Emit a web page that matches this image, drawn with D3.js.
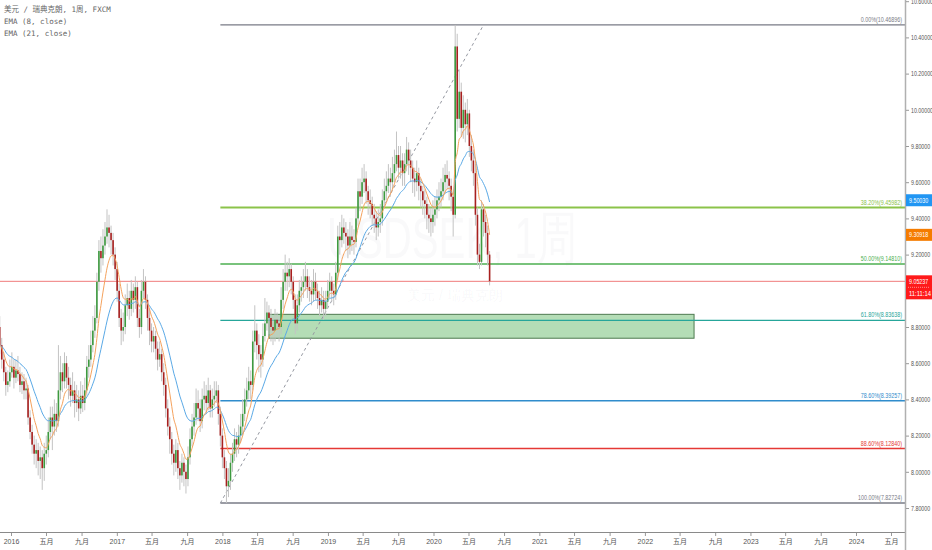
<!DOCTYPE html>
<html>
<head>
<meta charset="utf-8">
<script src="https://cdn.jsdelivr.net/npm/d3@7"></script>
<style>
html, body { margin: 0; padding: 0; background: #fff; }
svg { display: block; font-family: "Liberation Sans", Arial, sans-serif; }
</style>
</head>
<body>
<div id="chart"></div>
<script>
// weekly USD/SEK candles, open = previous close
const firstWeek = "2015-11-23";
const firstOpen = 8.80;
const closes = [8.70,8.62,8.55,8.48,8.50,8.55,8.58,8.52,8.56,8.54,
 8.48,8.50,8.45,8.46,8.30,8.22,8.15,8.10,8.12,8.06,
 8.08,8.02,8.10,8.12,8.22,8.30,8.25,8.32,8.28,8.45,
 8.55,8.50,8.60,8.52,8.48,8.42,8.45,8.38,8.40,8.35,
 8.42,8.38,8.45,8.58,8.62,8.70,8.78,8.85,9.05,9.22,
 9.18,9.25,9.30,9.35,9.32,9.28,9.20,9.12,9.00,8.85,
 8.78,8.80,8.92,8.96,8.90,9.00,8.95,9.02,8.85,8.80,
 9.00,9.05,8.95,8.85,8.78,8.72,8.75,8.68,8.62,8.65,
 8.55,8.48,8.35,8.25,8.18,8.10,8.05,8.12,8.02,7.98,
 8.05,8.00,7.96,8.08,8.18,8.25,8.30,8.38,8.35,8.28,
 8.40,8.42,8.38,8.45,8.35,8.40,8.42,8.45,8.32,8.20,
 8.08,8.02,7.92,7.95,8.05,8.10,8.18,8.15,8.20,8.25,
 8.32,8.40,8.45,8.50,8.48,8.72,8.78,8.70,8.65,8.62,
 8.75,8.82,8.88,8.85,8.80,8.78,8.84,8.82,8.80,8.95,
 9.05,9.10,9.08,9.12,9.05,8.95,8.82,8.92,9.00,9.02,
 9.05,9.08,9.02,9.00,8.98,9.05,9.00,8.96,8.92,8.95,
 8.90,8.94,9.00,9.05,9.00,8.98,9.10,9.30,9.28,9.35,
 9.32,9.30,9.25,9.30,9.28,9.27,9.40,9.55,9.52,9.60,
 9.62,9.55,9.50,9.48,9.42,9.40,9.35,9.38,9.40,9.50,
 9.55,9.58,9.62,9.60,9.65,9.70,9.75,9.68,9.72,9.65,
 9.70,9.78,9.72,9.68,9.62,9.60,9.65,9.58,9.55,9.50,
 9.48,9.42,9.40,9.38,9.42,9.45,9.50,9.52,9.55,9.60,
 9.64,9.62,9.58,9.52,9.42,10.35,9.95,10.10,9.90,10.00,
 9.92,9.98,9.80,9.72,9.65,9.42,9.20,9.16,9.45,9.38,
 9.32,9.20,9.05237];
const highs = [8.86,8.74,8.66,8.58,8.56,8.62,8.66,8.62,8.62,8.64,
 8.58,8.55,8.54,8.52,8.48,8.34,8.26,8.20,8.18,8.16,
 8.14,8.12,8.16,8.20,8.30,8.36,8.36,8.40,8.38,8.70,
 8.64,8.60,8.66,8.64,8.58,8.52,8.55,8.50,8.48,8.45,
 8.50,8.48,8.52,8.64,8.70,8.78,8.86,8.92,9.10,9.28,
 9.30,9.34,9.38,9.45,9.42,9.36,9.32,9.24,9.16,9.04,
 8.90,8.88,8.98,9.04,9.00,9.06,9.04,9.08,9.05,8.90,
 9.06,9.12,9.08,8.98,8.90,8.82,8.80,8.78,8.72,8.72,
 8.68,8.60,8.52,8.40,8.30,8.22,8.15,8.18,8.16,8.06,
 8.10,8.08,8.04,8.14,8.24,8.32,8.38,8.46,8.45,8.40,
 8.46,8.50,8.48,8.52,8.48,8.46,8.50,8.50,8.48,8.36,
 8.24,8.12,8.06,8.02,8.10,8.16,8.24,8.22,8.26,8.32,
 8.40,8.46,8.52,8.58,8.56,8.78,8.92,8.82,8.76,8.70,
 8.82,8.96,8.94,8.92,8.90,8.86,8.90,8.88,8.86,9.02,
 9.12,9.20,9.16,9.18,9.15,9.08,8.98,8.98,9.06,9.08,
 9.12,9.16,9.12,9.08,9.06,9.12,9.10,9.04,9.00,9.02,
 9.00,9.00,9.06,9.10,9.08,9.04,9.16,9.36,9.38,9.42,
 9.40,9.38,9.34,9.38,9.36,9.34,9.46,9.62,9.62,9.68,
 9.70,9.66,9.58,9.56,9.52,9.48,9.44,9.45,9.48,9.56,
 9.62,9.66,9.70,9.68,9.74,9.78,9.88,9.80,9.80,9.76,
 9.76,9.85,9.82,9.78,9.72,9.68,9.72,9.68,9.62,9.58,
 9.56,9.52,9.48,9.46,9.50,9.52,9.56,9.60,9.62,9.68,
 9.70,9.72,9.66,9.62,9.56,10.46896,10.42,10.22,10.15,10.08,
 10.04,10.06,10.00,9.86,9.78,9.70,9.46,9.26,9.50,9.48,
 9.42,9.36,9.22];
const lows = [8.65,8.57,8.50,8.42,8.44,8.47,8.52,8.46,8.49,8.50,
 8.44,8.43,8.40,8.40,8.26,8.18,8.10,8.04,8.02,7.98,
 7.96,7.90,7.95,8.04,8.08,8.18,8.12,8.20,8.22,8.25,
 8.40,8.44,8.46,8.46,8.40,8.36,8.38,8.30,8.33,8.28,
 8.32,8.33,8.34,8.42,8.52,8.58,8.66,8.74,8.82,9.00,
 9.10,9.14,9.20,9.26,9.24,9.20,9.14,9.06,8.94,8.80,
 8.70,8.72,8.76,8.86,8.84,8.86,8.88,8.90,8.80,8.74,
 8.76,8.96,8.90,8.78,8.70,8.66,8.66,8.62,8.56,8.58,
 8.50,8.42,8.30,8.20,8.10,8.04,7.98,8.00,7.96,7.90,
 7.94,7.92,7.88,7.92,8.04,8.14,8.20,8.26,8.28,8.22,
 8.24,8.34,8.32,8.34,8.30,8.30,8.36,8.38,8.26,8.14,
 8.02,7.96,7.82724,7.86,7.90,8.00,8.06,8.08,8.10,8.16,
 8.20,8.28,8.36,8.40,8.40,8.45,8.66,8.62,8.55,8.52,
 8.58,8.72,8.78,8.76,8.72,8.70,8.72,8.74,8.72,8.76,
 8.90,9.00,9.00,9.02,8.98,8.90,8.76,8.78,8.88,8.94,
 8.96,9.00,8.96,8.94,8.92,8.94,8.95,8.90,8.86,8.88,
 8.84,8.86,8.90,8.96,8.94,8.92,8.95,9.06,9.20,9.24,
 9.26,9.22,9.18,9.20,9.22,9.20,9.24,9.36,9.44,9.48,
 9.54,9.48,9.42,9.40,9.36,9.32,9.28,9.30,9.32,9.36,
 9.46,9.50,9.54,9.52,9.56,9.60,9.66,9.62,9.62,9.58,
 9.58,9.66,9.64,9.60,9.54,9.52,9.55,9.50,9.46,9.42,
 9.40,9.34,9.32,9.30,9.32,9.36,9.40,9.44,9.46,9.50,
 9.54,9.56,9.50,9.44,9.30,9.40,9.88,9.90,9.85,9.84,
 9.82,9.86,9.74,9.66,9.58,9.36,9.14,9.12,9.14,9.30,
 9.24,9.14,9.03];

// fibonacci retracement drawn from the 2018 low to the 2020 high
const fibHigh = 10.46896;
const fibLow = 7.82724;
const fibRatios = [0, 0.382, 0.5, 0.618, 0.786, 0.886, 1];
const fibAnchors = ["2017-12-25", "2020-06-22"];

// demand zone box
const zoneDates = ["2018-06-11", "2022-06-20"];
const zonePrices = [8.870, 8.738];

const lastPrice = 9.05237;
const countdown = "11:11:14";
const emaTags = [["9.50030", 9.50030], ["9.30918", 9.30918]];

const priceTicks = [7.8, 8.0, 8.2, 8.4, 8.6, 8.8, 9.0, 9.2, 9.4, 9.6, 9.8, 10.0, 10.2, 10.4, 10.6];
const years = [2016, 2017, 2018, 2019, 2020, 2021, 2022, 2023, 2024];
const monthLabels = [[4, "五月"], [8, "九月"]];

const legend = ["美元 / 瑞典克朗, 1周, FXCM", "EMA (8, close)", "EMA (21, close)"];

(function() {
    const width = 932, height = 550;
    const plotRight = 905;
    const plotBottom = 532;

    const fibColors = ["#787b86", "#8bc34a", "#4caf50", "#26a69a", "#2f8ccc", "#e53935", "#787b86"];
    const fibWidths = [1.2, 2, 1.5, 1.2, 1.5, 1.5, 1.5];

    const x = d3.scaleTime()
        .domain([new Date(2016, 0, 1), new Date(2024, 0, 1)])
        .range([11, 856]);
    const y = d3.scaleLinear()
        .domain([7.8, 10.6])
        .range([508, 1.2]);

    const parse = d3.timeParse("%Y-%m-%d");
    const start = parse(firstWeek);
    const candles = closes.map((c, i) => ({
        date: d3.timeWeek.offset(start, i),
        open: i === 0 ? firstOpen : closes[i - 1],
        high: highs[i],
        low: lows[i],
        close: c
    }));

    function ema(period) {
        const k = 2 / (period + 1);
        let prev = closes[0];
        return candles.map((d, i) => {
            prev = i === 0 ? d.close : d.close * k + prev * (1 - k);
            return {date: d.date, value: prev};
        });
    }

    // squeeze small axis numbers the way the narrow terminal font does
    const narrow = sel => sel
        .attr("textLength", function() { return this.textContent.length * 2.75; })
        .attr("lengthAdjust", "spacingAndGlyphs");

    const svg = d3.select("#chart").append("svg")
        .attr("width", width)
        .attr("height", height);

    svg.append("defs").append("clipPath").attr("id", "plot-clip")
        .append("rect").attr("x", 0).attr("y", 0)
        .attr("width", plotRight).attr("height", plotBottom);

    const plot = svg.append("g").attr("clip-path", "url(#plot-clip)");

    // watermark
    plot.append("text")
        .attr("x", 452).attr("y", 258)
        .attr("text-anchor", "middle")
        .attr("font-size", 58)
        .attr("textLength", 250)
        .attr("lengthAdjust", "spacingAndGlyphs")
        .attr("fill", "rgba(120,123,134,0.045)")
        .text("USDSEK, 1周");
    plot.append("text")
        .attr("x", 455).attr("y", 300)
        .attr("text-anchor", "middle")
        .attr("font-size", 14)
        .attr("fill", "rgba(120,123,134,0.05)")
        .text("美元 / 瑞典克朗");

    // demand zone
    plot.append("rect")
        .attr("x", x(parse(zoneDates[0])))
        .attr("y", y(zonePrices[0]))
        .attr("width", x(parse(zoneDates[1])) - x(parse(zoneDates[0])))
        .attr("height", y(zonePrices[1]) - y(zonePrices[0]))
        .attr("fill", "rgba(76,175,80,0.42)")
        .attr("stroke", "#4e7a50")
        .attr("stroke-width", 1);

    // fib levels
    const fibX0 = x(parse(fibAnchors[0]));
    const fibs = fibRatios.map((r, i) => ({
        ratio: r,
        value: fibHigh - (fibHigh - fibLow) * r,
        color: fibColors[i],
        w: fibWidths[i]
    }));
    const fibG = plot.append("g");
    fibG.selectAll("line")
        .data(fibs)
        .enter()
        .append("line")
        .attr("x1", fibX0)
        .attr("x2", plotRight)
        .attr("y1", d => y(d.value))
        .attr("y2", d => y(d.value))
        .attr("stroke", d => d.color)
        .attr("stroke-width", d => d.w);
    fibG.selectAll("text")
        .data(fibs)
        .enter()
        .append("text")
        .attr("x", plotRight - 3)
        .attr("y", d => y(d.value) - 3)
        .attr("text-anchor", "end")
        .attr("font-size", 7)
        .attr("fill", d => d.color)
        .text(d => (d.ratio * 100).toFixed(2) + "%(" + d.value.toFixed(5) + ")")
        .call(narrow);

    // dashed trend line between fib anchors
    plot.append("line")
        .attr("x1", fibX0).attr("y1", y(fibLow))
        .attr("x2", x(parse(fibAnchors[1]))).attr("y2", y(fibHigh))
        .attr("stroke", "#9598a1")
        .attr("stroke-width", 1)
        .attr("stroke-dasharray", "3,3");

    // last price line
    plot.append("line")
        .attr("x1", 0).attr("x2", plotRight)
        .attr("y1", y(lastPrice)).attr("y2", y(lastPrice))
        .attr("stroke", "#f07b7b")
        .attr("stroke-width", 1);

    // candles
    const cg = plot.append("g");
    cg.selectAll("line")
        .data(candles)
        .enter()
        .append("line")
        .attr("x1", d => x(d.date))
        .attr("x2", d => x(d.date))
        .attr("y1", d => y(d.high))
        .attr("y2", d => y(d.low))
        .attr("stroke", "#c3c3c3")
        .attr("stroke-width", 1);
    cg.selectAll("rect")
        .data(candles)
        .enter()
        .append("rect")
        .attr("x", d => x(d.date) - 0.8)
        .attr("width", 1.6)
        .attr("y", d => y(Math.max(d.open, d.close)))
        .attr("height", d => Math.max(0.8, Math.abs(y(d.open) - y(d.close))))
        .attr("fill", d => d.close >= d.open ? "#3d9a3f" : "#a8201f");

    // EMAs
    const line = d3.line().x(d => x(d.date)).y(d => y(d.value)).curve(d3.curveMonotoneX);
    plot.append("path").datum(ema(21))
        .attr("d", line).attr("fill", "none")
        .attr("stroke", "#5aa9e6").attr("stroke-width", 1);
    plot.append("path").datum(ema(8))
        .attr("d", line).attr("fill", "none")
        .attr("stroke", "#f5a25d").attr("stroke-width", 1);

    // axes frame
    svg.append("line")
        .attr("x1", 0).attr("x2", plotRight)
        .attr("y1", plotBottom + 0.5).attr("y2", plotBottom + 0.5)
        .attr("stroke", "#8a8a8a").attr("stroke-width", 1);
    svg.append("line")
        .attr("x1", plotRight + 0.5).attr("x2", plotRight + 0.5)
        .attr("y1", 0).attr("y2", height)
        .attr("stroke", "#b0b0b0").attr("stroke-width", 1.5);

    // price axis
    const yAxis = svg.append("g")
        .attr("transform", "translate(" + (plotRight + 1) + ",0)")
        .call(d3.axisRight(y).tickValues(priceTicks).tickFormat(d3.format(".5f")).tickSize(3).tickPadding(2));
    yAxis.select(".domain").remove();
    yAxis.selectAll("line").attr("stroke", "#999");
    yAxis.selectAll("text")
        .attr("font-size", 7)
        .attr("fill", "#555")
        .attr("font-family", "Liberation Sans, Arial, sans-serif")
        .call(narrow);

    // time axis
    const timeTicks = [];
    years.forEach(yr => {
        timeTicks.push({date: new Date(yr, 0, 1), label: String(yr)});
        monthLabels.forEach(m => timeTicks.push({date: new Date(yr, m[0], 1), label: m[1]}));
    });
    const visTicks = timeTicks.filter(t => x(t.date) < plotRight - 4);
    const xAxis = svg.append("g")
        .attr("transform", "translate(0," + (plotBottom + 1) + ")")
        .call(d3.axisBottom(x).tickValues(visTicks.map(t => t.date))
            .tickFormat((d, i) => visTicks[i].label).tickSize(3).tickPadding(3));
    xAxis.select(".domain").remove();
    xAxis.selectAll("line").attr("stroke", "#999");
    xAxis.selectAll("text")
        .attr("font-size", 7)
        .attr("fill", "#555")
        .attr("font-family", "Liberation Sans, 'Noto Sans CJK SC', sans-serif");

    // price tags
    const tagColors = ["#2196f3", "#f57c00"];
    const tags = svg.append("g");
    emaTags.forEach((t, i) => {
        tags.append("rect")
            .attr("x", plotRight + 1).attr("y", y(t[1]) - 6)
            .attr("width", width - plotRight - 1).attr("height", 12)
            .attr("fill", tagColors[i]);
        tags.append("text")
            .attr("x", plotRight + 4).attr("y", y(t[1]) + 2.5)
            .attr("font-size", 7)
            .attr("fill", "#fff")
            .text(t[0])
            .call(narrow);
    });
    tags.append("rect")
        .attr("x", plotRight + 1).attr("y", y(lastPrice) - 6)
        .attr("width", width - plotRight - 1).attr("height", 24)
        .attr("fill", "#ff1a1a");
    tags.append("line")
        .attr("x1", plotRight + 3).attr("x2", width - 2)
        .attr("y1", y(lastPrice) + 6).attr("y2", y(lastPrice) + 6)
        .attr("stroke", "rgba(255,255,255,0.5)").attr("stroke-dasharray", "1,1");
    tags.append("text")
        .attr("x", plotRight + 4).attr("y", y(lastPrice) + 2.5)
        .attr("font-size", 7)
        .attr("fill", "#fff")
        .text(lastPrice.toFixed(5))
        .call(narrow);
    tags.append("text")
        .attr("x", plotRight + 4).attr("y", y(lastPrice) + 14.5)
        .attr("font-size", 7)
        .attr("fill", "#fff")
        .text(countdown)
        .call(narrow);

    // legend
    svg.append("g").selectAll("text")
        .data(legend)
        .enter()
        .append("text")
        .attr("x", 4)
        .attr("y", (d, i) => 12 + i * 12)
        .attr("font-size", 7.5)
        .attr("fill", "#666")
        .attr("font-family", "'DejaVu Sans Mono', 'Noto Sans CJK SC', monospace")
        .text(d => d);
})();
</script>
</body>
</html>
